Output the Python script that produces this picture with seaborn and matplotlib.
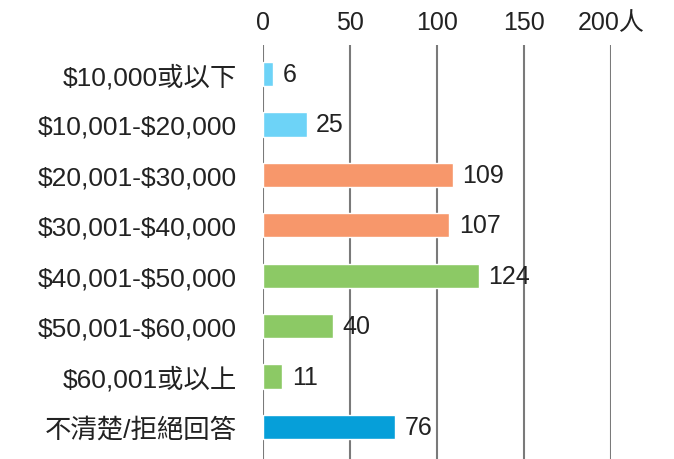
import matplotlib
matplotlib.use("Agg")
import matplotlib.pyplot as plt
import seaborn as sns
import pandas as pd

# Data
categories = ["$10,000或以下", "$10,001-$20,000", "$20,001-$30,000", "$30,001-$40,000",
              "$40,001-$50,000", "$50,001-$60,000", "$60,001或以上", "不清楚/拒絕回答"]
counts = [6, 25, 109, 107, 124, 40, 11, 76]
bar_colors = ["#6DD3F7", "#6DD3F7", "#F7976B", "#F7976B",
              "#8CC965", "#8CC965", "#8CC965", "#069FD9"]
x_ticks = [0, 50, 100, 150, 200]
x_ticklabels = ["0", "50", "100", "150", "200人"]

sns.set_theme(style="white")
plt.rcParams['font.family'] = ['Liberation Sans', 'Noto Sans CJK TC', 'DejaVu Sans']
plt.rcParams['text.parse_math'] = False

df = pd.DataFrame({"cat": categories, "n": counts})

fig = plt.figure(figsize=(6.74, 4.6), dpi=100)
ax = fig.add_axes([263 / 674, 0.0, (611 - 263) / 674, 1 - 46 / 460])

sns.barplot(data=df, y="cat", x="n", hue="cat", palette=bar_colors,
            legend=False, orient="h", width=0.48, ax=ax, saturation=1)

ax.set_xlim(0, 200)
ax.set_ylim(7.635, -0.575)

# vertical gridlines
for t in x_ticks:
    ax.axvline(t, color="#7a7a7a", lw=1.5, zorder=0)

for s in ax.spines.values():
    s.set_visible(False)

fs = 18
ax.xaxis.tick_top()
ax.set_xticks(x_ticks)
ax.set_xticklabels(x_ticklabels)
ax.tick_params(axis="x", length=0, pad=8, labelsize=fs, colors="#222222")
ax.tick_params(axis="y", length=0, pad=19, labelsize=19, colors="#222222")
ax.set_xlabel("")
ax.set_ylabel("")

# value labels
for i, v in enumerate(counts):
    ax.annotate(str(v), (v, i), xytext=(7, 0), textcoords="offset points",
                va="center", ha="left", fontsize=fs, color="#222222")

fig.savefig("out.png", dpi=100)
